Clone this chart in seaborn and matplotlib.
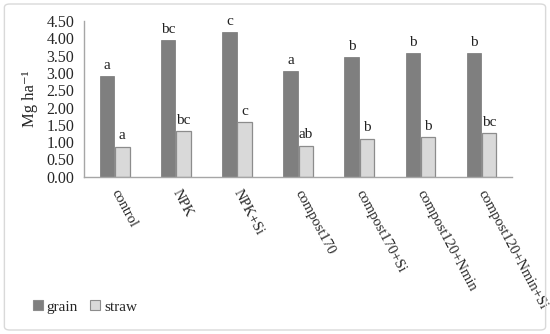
import matplotlib
matplotlib.use("Agg")
import matplotlib.pyplot as plt
import seaborn as sns
import pandas as pd
from matplotlib.patches import FancyBboxPatch

categories = ["control", "NPK", "NPK+Si", "compost170", "compost170+Si",
              "compost120+Nmin", "compost120+Nmin+Si"]
grain = [2.90, 3.96, 4.19, 3.05, 3.45, 3.58, 3.58]
straw = [0.87, 1.32, 1.59, 0.90, 1.10, 1.14, 1.27]
grain_letters = ["a", "bc", "c", "a", "b", "b", "b"]
straw_letters = ["a", "bc", "c", "ab", "b", "b", "bc"]
yticks = [0.0, 0.5, 1.0, 1.5, 2.0, 2.5, 3.0, 3.5, 4.0, 4.5]

df = pd.DataFrame({
    "treatment": categories * 2,
    "value": grain + straw,
    "part": ["grain"] * len(categories) + ["straw"] * len(categories),
})

sns.set_style("white")
plt.rcParams["font.family"] = ["Liberation Serif", "DejaVu Serif"]

fig = plt.figure(figsize=(5.5, 3.34), dpi=100)
ax = fig.add_axes([0.153, 0.471, 0.778, 0.466])

sns.barplot(data=df, x="treatment", y="value", hue="part", order=categories,
            hue_order=["grain", "straw"], palette=["#7f7f7f", "#d9d9d9"],
            width=0.5, gap=0.06, ax=ax, legend=True)

bar_conts = [c for c in ax.containers][:2]
for i, c in enumerate(bar_conts):
    for bar in c:
        if i == 1:
            bar.set_edgecolor("#8c8c8c")
            bar.set_linewidth(0.9)
        else:
            bar.set_edgecolor("#767676")
            bar.set_linewidth(0.5)

for c, lets in zip(bar_conts, [grain_letters, straw_letters]):
    for bar, t in zip(c, lets):
        ax.text(bar.get_x() + bar.get_width() / 2, bar.get_height() + 0.12, t,
                ha="center", va="bottom", fontsize=11, color="#222222")

ax.set_ylim(0, 4.5)
ax.set_xlim(-0.5, len(categories) - 0.5)
ax.set_yticks(yticks)
ax.set_yticklabels([f"{v:.2f}" for v in yticks], fontsize=11.5)
ax.tick_params(axis="y", length=0, pad=7)
ax.tick_params(axis="x", length=0, pad=10)
ax.set_xticks(range(len(categories)))
ax.set_xticklabels(categories, rotation=-62, ha="left", va="center",
                   rotation_mode="anchor", fontsize=10.5)
ax.set_xlabel("")
ax.set_ylabel("Mg ha⁻¹", fontsize=12, labelpad=6)

for s in ["top", "right"]:
    ax.spines[s].set_visible(False)
for s in ["left", "bottom"]:
    ax.spines[s].set_color("#a6a6a6")
    ax.spines[s].set_linewidth(1.0)

leg = ax.legend(loc="lower left", bbox_to_anchor=(0.035, 0.02),
                bbox_transform=fig.transFigure, ncol=2, frameon=False,
                fontsize=11, handlelength=0.65, handleheight=0.65,
                handletextpad=0.25, columnspacing=0.8)
for h in leg.legend_handles:
    h.set_edgecolor("#8c8c8c")
    h.set_linewidth(0.8)

border = FancyBboxPatch((0.008, 0.012), 0.984, 0.976,
                        boxstyle="round,pad=0,rounding_size=0.01",
                        transform=fig.transFigure, facecolor="none",
                        edgecolor="#d9d9d9", linewidth=1.0)
fig.patches.append(border)

fig.savefig("out.png", dpi=100)
